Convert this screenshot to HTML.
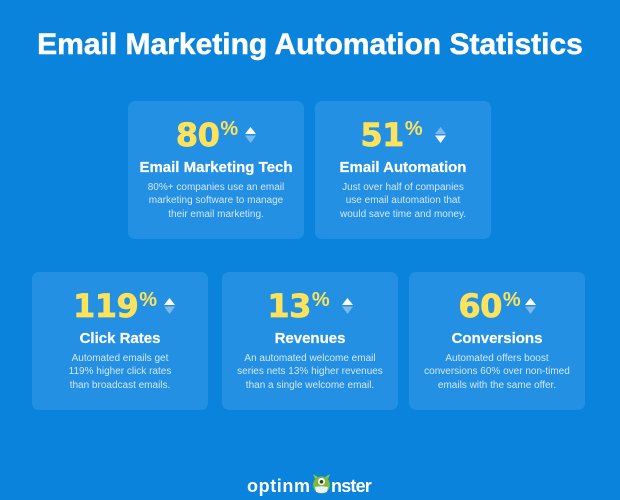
<!DOCTYPE html>
<html>
<head>
<meta charset="utf-8">
<style>
  html, body { margin:0; padding:0; }
  body { width:620px; height:500px; background:#0a83dd; position:relative; overflow:hidden;
         font-family:"Liberation Sans", Arial, sans-serif; }
  .title { position:absolute; top:30px; left:0; width:620px; text-align:center; color:#fff;
           font-weight:bold; font-size:30px; line-height:30px; white-space:nowrap; -webkit-text-stroke:0.5px #fff; }
  .card { position:absolute; width:176px; height:138px; background:#2490e3; border-radius:7px; }
  .row { position:absolute; top:18px; left:0; right:0; display:flex; justify-content:center; align-items:flex-start; }
  .num { font-family:"DejaVu Sans", "Liberation Sans", sans-serif; font-weight:bold; font-size:32px; line-height:32px;
         color:#fde35c; letter-spacing:-0.5px; -webkit-text-stroke:0.7px #fde35c; }
  .pct { font-family:"Liberation Sans", sans-serif; font-weight:bold; font-size:20px; line-height:20px; color:#fde35c; margin-left:1px; }
  .arr { display:block; margin-top:8px; margin-left:7px; }
  .h { position:absolute; top:59px; left:0; right:0; text-align:center; color:#fff; font-weight:bold;
       font-size:15px; line-height:15px; white-space:nowrap; -webkit-text-stroke:0.2px #fff; }
  .d { position:absolute; top:80px; left:0; right:0; text-align:center; color:#d3e7fa; font-size:10px;
       line-height:13.3px; white-space:nowrap; }
  .logo { position:absolute; top:477px; color:#fff; font-weight:bold; font-size:18px; line-height:18px; white-space:nowrap; }
</style>
</head>
<body>
<div class="title">Email Marketing Automation Statistics</div>

<div class="card" style="left:128px; top:101px;">
  <div class="row">
    <span class="num">80</span><span class="pct">%</span>
    <svg class="arr" width="11" height="16" viewBox="0 0 11 16"><polygon points="5.5,0 11,7 0,7" fill="#fff"/><polygon points="0,8.5 11,8.5 5.5,16" fill="#7ab8ef"/></svg>
  </div>
  <div class="h">Email Marketing Tech</div>
  <div class="d">80%+ companies use an email<br>marketing software to manage<br>their email marketing.</div>
</div>

<div class="card" style="left:315px; top:101px;">
  <div class="row">
    <span class="num">51</span><span class="pct">%</span>
    <svg class="arr" width="11" height="16" viewBox="0 0 11 16" style="margin-left:12px"><polygon points="5.5,0 11,7 0,7" fill="#7ab8ef"/><polygon points="0,8.5 11,8.5 5.5,16" fill="#fff"/></svg>
  </div>
  <div class="h">Email Automation</div>
  <div class="d">Just over half of companies<br>use email automation that<br>would save time and money.</div>
</div>

<div class="card" style="left:32px; top:272px;">
  <div class="row" style="padding-left:8px;">
    <span class="num">119</span><span class="pct">%</span>
    <svg class="arr" width="11" height="16" viewBox="0 0 11 16"><polygon points="5.5,0 11,7 0,7" fill="#fff"/><polygon points="0,8.5 11,8.5 5.5,16" fill="#7ab8ef"/></svg>
  </div>
  <div class="h">Click Rates</div>
  <div class="d">Automated emails get<br>119% higher click rates<br>than broadcast emails.</div>
</div>

<div class="card" style="left:222px; top:272px;">
  <div class="row">
    <span class="num">13</span><span class="pct">%</span>
    <svg class="arr" width="11" height="16" viewBox="0 0 11 16" style="margin-left:12px"><polygon points="5.5,0 11,7 0,7" fill="#fff"/><polygon points="0,8.5 11,8.5 5.5,16" fill="#7ab8ef"/></svg>
  </div>
  <div class="h">Revenues</div>
  <div class="d">An automated welcome email<br>series nets 13% higher revenues<br>than a single welcome email.</div>
</div>

<div class="card" style="left:409px; top:272px;">
  <div class="row">
    <span class="num">60</span><span class="pct">%</span>
    <svg class="arr" width="11" height="16" viewBox="0 0 11 16" style="margin-left:4px"><polygon points="5.5,0 11,7 0,7" fill="#fff"/><polygon points="0,8.5 11,8.5 5.5,16" fill="#7ab8ef"/></svg>
  </div>
  <div class="h">Conversions</div>
  <div class="d">Automated offers boost<br>conversions 60% over non-timed<br>emails with the same offer.</div>
</div>

<div class="logo" style="left:247px; letter-spacing:0.6px;">optinm</div>
<svg style="position:absolute; left:312px; top:473px;" width="19" height="21" viewBox="0 0 19 21">
  <path d="M3,6 L1,1 L6,4 Z" fill="#8cc63f"/>
  <path d="M16,6 L18,1 L13,4 Z" fill="#8cc63f"/>
  <ellipse cx="9.5" cy="12" rx="8.5" ry="8.5" fill="#7cbc3a"/>
  <circle cx="9.5" cy="8.5" r="3.6" fill="#fff"/>
  <circle cx="9.5" cy="8.8" r="1.8" fill="#2b4a1c"/>
  <path d="M3,14 Q9.5,12.5 16,14 L15,19 Q9.5,21 4,19 Z" fill="#e8f2f8"/>
</svg>
<div class="logo" style="left:331px; letter-spacing:-0.8px;">nster</div>
</body>
</html>
